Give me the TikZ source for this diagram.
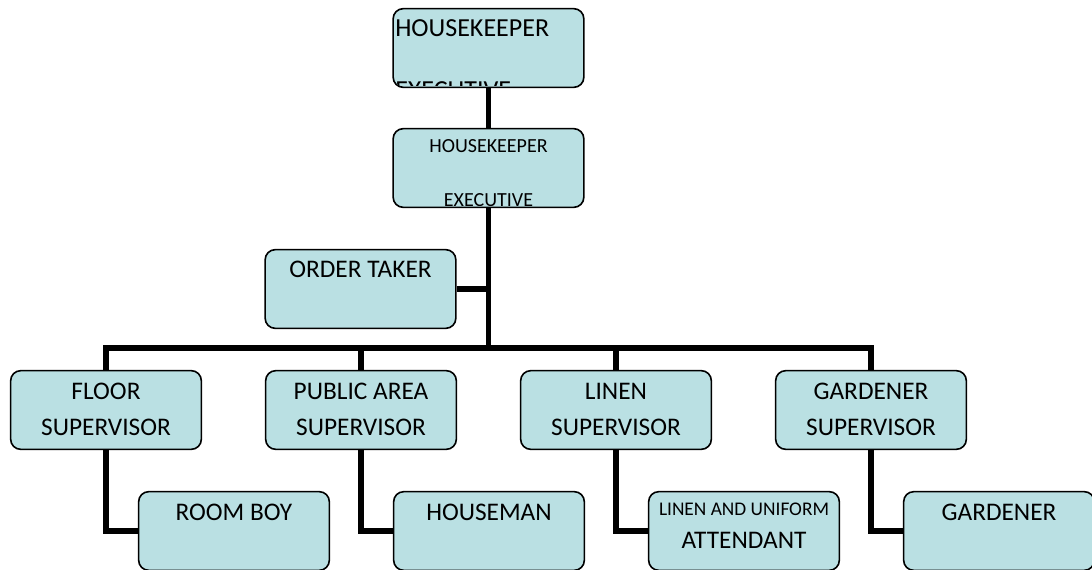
\documentclass[tikz,border=0pt]{standalone}
\usepackage{fontspec}
\setmainfont{Carlito}
\usetikzlibrary{positioning,backgrounds}
\definecolor{boxfill}{HTML}{BAE0E3}
\tikzset{
  post/.style={draw=black,line width=1.2pt,fill=boxfill,rounded corners=7.5pt,
    minimum width=143pt,minimum height=59pt,inner sep=0pt},
  link/.style={line width=3.8pt},
  txt/.style={font=\fontsize{19}{27}\selectfont,inner sep=0pt,anchor=base,align=center},
  stxt/.style={font=\fontsize{14.5}{20}\selectfont,inner sep=0pt,anchor=base},
}

\begin{document}
\begin{tikzpicture}[x=0.75pt,y=-0.75pt]
  \clip (0,0) rectangle (1092,569);
  % ---------- boxes ----------
  \node[post] (exec1) at (488.5,48) {};
  \node[post] (exec2) at (488.5,168) {};
  \node[post] (order) at (360.5,289) {};
  \node[post] (floor) at (106,410) {};
  \node[post] (public) at (361,410) {};
  \node[post] (linen) at (616,410) {};
  \node[post] (garden) at (871,410) {};
  \node[post] (roomboy) at (234,531) {};
  \node[post] (houseman) at (489,531) {};
  \node[post] (uniform) at (744,531) {};
  \node[post] (gardener) at (999,531) {};
  % ---------- connectors ----------
  \coordinate (bus) at (488.5,348);
  \begin{scope}[on background layer]
    \draw[link] (exec1) -- (exec2);
    \draw[link] (exec2.south) -- (bus);
    \draw[link] (order.east) -- (order.east -| bus);
    \draw[link] (floor.north) -- (floor.north |- bus) -- (garden.north |- bus) -- (garden.north);
    \draw[link] (public.north) -- (public.north |- bus);
    \draw[link] (linen.north) -- (linen.north |- bus);
    \draw[link] (floor.south) |- (roomboy.west);
    \draw[link] (public.south) |- (houseman.west);
    \draw[link] (linen.south) |- (uniform.west);
    \draw[link] (garden.south) |- (gardener.west);
  \end{scope}
  % ---------- texts ----------
  \begin{scope}
    \clip[rounded corners=6pt] ([shift={(2,-2.5)}]exec1.south west) rectangle ([shift={(-2,2.5)}]exec1.north east);
    \node[font=\fontsize{19.5}{46}\selectfont,inner sep=0pt,anchor=base west,align=left]
      (exec1txt) at (395,98) {HOUSEKEEPER\\EXECUTIVE};
  \end{scope}
  \begin{scope}
    \clip[rounded corners=6pt] ([shift={(2,-2.5)}]exec2.south west) rectangle ([shift={(-2,2.5)}]exec2.north east);
    \node[font=\fontsize{15}{40}\selectfont,inner sep=0pt,anchor=base,align=center]
      (exec2txt) at (488.5,206) {HOUSEKEEPER\\EXECUTIVE};
  \end{scope}
  \node[txt] (ordertxt) at (360.5,277) {ORDER TAKER};
  \node[txt] (floortxt) at (106,435) {FLOOR\\SUPERVISOR};
  \node[txt] (publictxt) at (361,435) {PUBLIC AREA\\SUPERVISOR};
  \node[txt] (linentxt) at (616,435) {LINEN\\SUPERVISOR};
  \node[txt] (gardentxt) at (871,435) {GARDENER\\SUPERVISOR};
  \node[txt] (roomboytxt) at (234,520) {ROOM BOY};
  \node[txt] (housemantxt) at (489,520) {HOUSEMAN};
  \node[stxt] (uniformtxt) at (744,515) {LINEN AND UNIFORM};
  \node[txt] (attendtxt) at (744,548) {ATTENDANT};
  \node[txt] (gardenertxt) at (999,520) {GARDENER};
\end{tikzpicture}
\end{document}
